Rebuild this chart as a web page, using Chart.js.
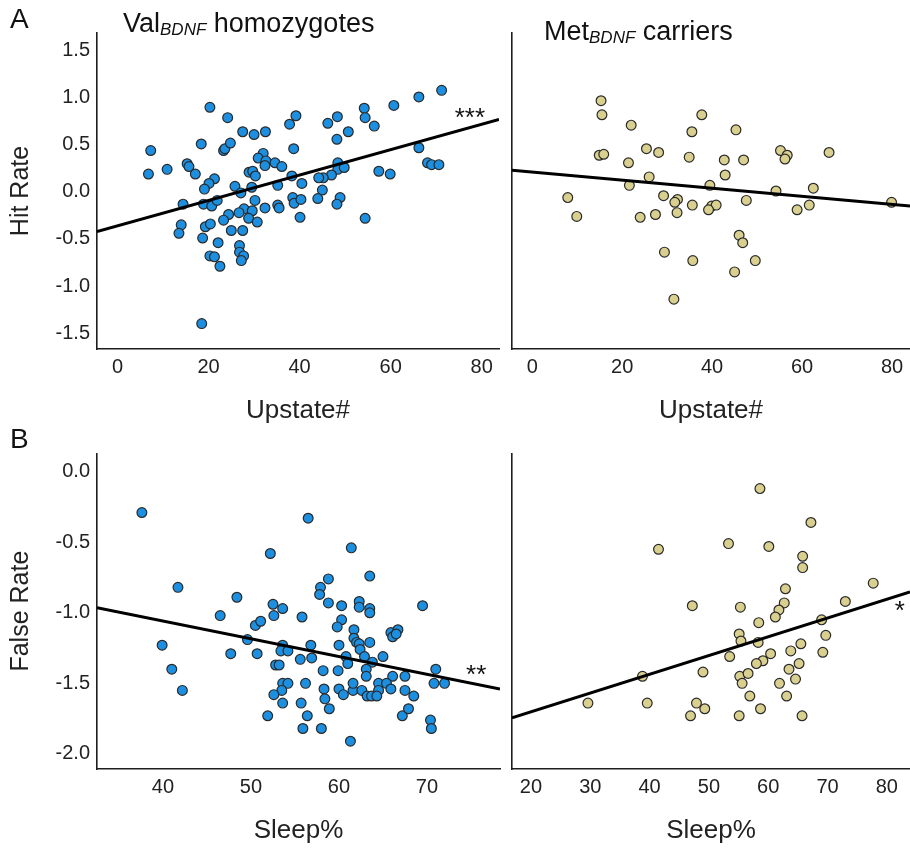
<!DOCTYPE html>
<html><head><meta charset="utf-8">
<script src="https://cdn.jsdelivr.net/npm/chart.js@4.4.1/dist/chart.umd.min.js"></script>
<style>
html,body{margin:0;padding:0;background:#fff;}
#wrap{position:relative;width:910px;height:850px;overflow:hidden;font-family:"Liberation Sans",Arial,sans-serif;color:#111;}
.box{position:absolute;}
.lbl{position:absolute;white-space:nowrap;line-height:27px;}
.sub{font-style:italic;font-size:17px;position:relative;top:3px;}
</style></head><body>
<div id="wrap">
  <div class="box" style="left:0;top:0"><canvas id="cA1" width="505" height="430"></canvas></div>
  <div class="box" style="left:505px;top:0"><canvas id="cA2" width="405" height="430"></canvas></div>
  <div class="box" style="left:0;top:430px"><canvas id="cB1" width="505" height="420"></canvas></div>
  <div class="box" style="left:505px;top:430px"><canvas id="cB2" width="405" height="420"></canvas></div>
  <div class="lbl" style="left:10px;top:5px;font-size:28px;line-height:28px">A</div>
  <div class="lbl" style="left:10px;top:425px;font-size:28px;line-height:28px">B</div>
  <div class="lbl" style="left:123px;top:10px;font-size:27px">Val<span class="sub">BDNF</span> homozygotes</div>
  <div class="lbl" style="left:544px;top:18px;font-size:27px">Met<span class="sub">BDNF</span> carriers</div>
</div>
<script>
// ---- Panel A, left: Val homozygotes, Upstate# vs Hit Rate
const valUpstate = [20.3,24.2,27.5,30.0,32.5,37.8,39.2,7.3,18.4,23.3,23.6,24.8,38.7,32.0,30.9,32.6,32.4,34.6,36.1,6.8,10.9,15.3,15.7,17.1,28.9,29.7,30.3,38.3,40.5,21.3,20.1,19.1,25.8,27.1,29.5,14.4,18.9,20.7,21.9,30.2,38.5,38.8,40.3,35.2,35.5,32.4,27.8,26.7,29.6,24.4,23.3,28.8,30.7,40.1,14.0,13.5,19.3,20.4,25.0,27.5,18.7,22.1,26.8,26.8,27.7,27.2,20.3,21.3,22.5,18.5,46.2,48.3,54.2,54.4,56.4,60.7,66.2,71.2,50.7,48.2,66.2,68.1,69.0,70.6,57.4,59.9,48.4,48.4,49.8,47.0,45.2,44.2,45.0,44.0,48.9,48.2,54.4,35.2];
const valHitRate = [0.90,0.79,0.64,0.61,0.64,0.72,0.81,0.44,0.51,0.44,0.46,0.52,0.46,0.41,0.36,0.33,0.28,0.31,0.27,0.19,0.24,0.30,0.27,0.19,0.21,0.22,0.17,0.17,0.09,0.14,0.09,0.03,0.06,-0.01,0.05,-0.13,-0.13,-0.15,-0.09,-0.09,-0.06,-0.12,-0.08,-0.14,-0.17,-0.17,-0.18,-0.22,-0.20,-0.24,-0.30,-0.28,-0.32,-0.27,-0.35,-0.44,-0.37,-0.34,-0.41,-0.41,-0.49,-0.54,-0.57,-0.64,-0.68,-0.73,-0.68,-0.69,-0.79,-1.40,0.73,0.80,0.89,0.79,0.70,0.92,1.01,1.08,0.64,0.56,0.47,0.31,0.29,0.29,0.22,0.19,0.31,0.24,0.26,0.18,0.15,0.15,0.02,-0.07,-0.06,-0.13,-0.28,0.07];
const valHitFitX = [-4.5, 83.8];
const valHitFitY = [-0.42, 0.77];

// ---- Panel A, right: Met carriers
const metUpstate = [15.3,15.5,22.0,37.7,35.5,45.3,14.9,15.9,25.4,28.1,34.9,21.4,42.7,47.0,55.2,56.7,56.2,66.0,42.9,26.0,21.6,39.5,54.2,62.5,79.9,7.9,9.9,29.2,32.3,31.7,32.2,27.4,24.0,35.6,39.9,40.9,39.2,47.6,58.9,61.6,46.0,46.8,29.4,35.7,49.6,45.0,31.5];
const metHitRate = [0.97,0.82,0.71,0.82,0.64,0.66,0.39,0.40,0.46,0.42,0.37,0.31,0.34,0.34,0.44,0.39,0.35,0.42,0.18,0.16,0.07,0.07,0.01,0.04,-0.11,-0.06,-0.26,-0.04,-0.08,-0.11,-0.22,-0.24,-0.27,-0.14,-0.15,-0.14,-0.19,-0.09,-0.19,-0.14,-0.46,-0.54,-0.64,-0.73,-0.73,-0.85,-1.14];
const metHitFitX = [-4.5, 84.0];
const metHitFitY = [0.23, -0.15];

// ---- Panel B, left: Val homozygotes, Sleep% vs False Rate
const valSleep = [37.6,52.2,41.7,48.4,52.5,53.6,52.6,55.8,46.5,50.5,51.1,49.6,53.6,53.4,54.2,55.6,39.9,47.7,50.7,52.8,53.2,41.0,42.2,53.6,54.2,53.5,52.6,53.6,55.7,51.9,55.9,56.5,61.4,63.5,58.8,57.9,57.8,58.8,60.3,62.3,62.3,63.5,63.5,69.5,60.3,59.8,61.7,61.7,62.0,65.9,66.7,66.1,66.5,56.8,60.0,62.3,62.4,63.5,56.9,60.8,61.0,62.9,63.8,65.0,58.2,59.9,63.1,63.1,66.1,67.5,71.0,70.8,72.0,56.2,58.3,60.0,61.6,62.6,61.6,64.5,65.4,64.5,65.9,67.5,68.5,60.5,63.2,63.7,64.3,58.4,58.9,56.4,67.2,67.9,70.4,70.5,58.0,61.3];
const valFalseRate = [-0.29,-0.58,-0.82,-0.89,-0.94,-0.97,-1.02,-1.03,-1.02,-1.09,-1.06,-1.19,-1.23,-1.27,-1.27,-1.33,-1.23,-1.29,-1.29,-1.37,-1.37,-1.40,-1.55,-1.50,-1.50,-1.55,-1.58,-1.64,-1.64,-1.73,-1.82,-0.33,-0.54,-0.74,-0.76,-0.82,-0.87,-0.93,-0.95,-0.92,-0.96,-0.97,-1.00,-0.95,-1.05,-1.10,-1.12,-1.18,-1.21,-1.14,-1.12,-1.17,-1.15,-1.23,-1.23,-1.22,-1.26,-1.21,-1.32,-1.31,-1.36,-1.31,-1.35,-1.31,-1.41,-1.41,-1.40,-1.45,-1.45,-1.45,-1.40,-1.50,-1.50,-1.50,-1.54,-1.54,-1.55,-1.55,-1.50,-1.50,-1.50,-1.55,-1.54,-1.55,-1.59,-1.58,-1.59,-1.59,-1.59,-1.61,-1.68,-1.73,-1.73,-1.68,-1.76,-1.82,-1.82,-1.91];
const valFalseFitX = [32.5, 78.3];
const valFalseFitY = [-0.965, -1.54];

// ---- Panel B, right: Met carriers
const metSleep = [58.6,67.2,41.5,53.3,60.1,65.8,65.8,77.7,62.9,62.7,61.8,61.2,73.0,47.2,55.3,58.4,69.0,69.7,69.2,55.1,55.4,58.3,65.5,63.8,60.4,53.5,59.1,58.0,65.2,63.5,64.6,49.0,38.8,55.2,56.6,55.6,61.9,56.9,63.1,29.6,39.6,47.9,49.3,46.9,55.1,58.7,65.7];
const metFalseRate = [-0.12,-0.36,-0.55,-0.51,-0.53,-0.60,-0.68,-0.79,-0.83,-0.93,-0.98,-1.03,-0.92,-0.95,-0.96,-1.07,-1.05,-1.16,-1.28,-1.15,-1.20,-1.21,-1.22,-1.27,-1.29,-1.31,-1.34,-1.36,-1.36,-1.40,-1.47,-1.42,-1.45,-1.45,-1.43,-1.50,-1.50,-1.59,-1.59,-1.64,-1.64,-1.64,-1.68,-1.73,-1.73,-1.68,-1.73];
const metFalseFitX = [16.8, 83.9];
const metFalseFitY = [-1.744, -0.852];

// ---- tick labels
const upstateTicks = [0, 20, 40, 60, 80];
const hitRateTicks = [-1.5, -1.0, -0.5, 0.0, 0.5, 1.0, 1.5];
const valSleepTicks = [40, 50, 60, 70];
const metSleepTicks = [20, 30, 40, 50, 60, 70, 80];
const falseRateTicks = [-2.0, -1.5, -1.0, -0.5, 0.0];

// ---- significance marks
const sigMarks = ['***', '', '**', '*'];

const BLUE = '#1c8fe0', TAN = '#d9cf8f', EDGE = '#2a2a2a', AXIS = '#1e1e1e';
const FONT = "'Liberation Sans', Arial, sans-serif";

const pts = (xs, ys) => xs.map((x, i) => ({x: x, y: ys[i]}));

const starPlugin = {
  id: 'stars',
  afterDatasetsDraw(chart, args, opts) {
    if (!opts.text) return;
    const ctx = chart.ctx;
    const px = chart.scales.x.getPixelForValue(opts.x);
    const py = chart.scales.y.getPixelForValue(opts.y);
    ctx.save();
    ctx.font = '26px ' + FONT;
    ctx.fillStyle = '#111';
    ctx.textAlign = 'center';
    ctx.textBaseline = 'middle';
    ctx.fillText(opts.text, px, py + 5);
    ctx.restore();
  }
};

function makeChart(id, c) {
  return new Chart(document.getElementById(id), {
    type: 'scatter',
    data: {
      datasets: [
        {
          type: 'line',
          data: pts(c.fitX, c.fitY),
          borderColor: '#000',
          borderWidth: 3,
          pointRadius: 0,
          fill: false,
          tension: 0
        },
        {
          data: pts(c.xs, c.ys),
          backgroundColor: c.color,
          borderColor: EDGE,
          borderWidth: 1.2,
          pointRadius: 4.9
        }
      ]
    },
    options: {
      responsive: false,
      animation: false,
      devicePixelRatio: 1,
      events: [],
      layout: {autoPadding: false, padding: {left: 0, top: c.padTop, right: c.padRight, bottom: 0}},
      plugins: {
        legend: {display: false},
        tooltip: {enabled: false},
        stars: {text: c.star, x: c.starX, y: c.starY}
      },
      scales: {
        x: {
          type: 'linear',
          min: c.xMin, max: c.xMax,
          grid: {display: false, drawTicks: false},
          border: {display: true, color: AXIS, width: 1.6},
          afterBuildTicks: s => { s.ticks = c.xTicks.map(v => ({value: v})); },
          afterFit: s => { s.height = 81; },
          ticks: {
            autoSkip: false, maxRotation: 0, padding: 6,
            color: '#222', font: {family: FONT, size: 20},
            callback: v => String(v)
          },
          title: {
            display: true, text: c.xTitle, color: '#222',
            font: {family: FONT, size: 26}, padding: {top: 0, bottom: 4}
          }
        },
        y: {
          type: 'linear',
          min: c.yMin, max: c.yMax,
          grid: {display: false, drawTicks: false},
          border: {display: true, color: AXIS, width: 1.6},
          afterBuildTicks: s => { s.ticks = c.yTicks.map(v => ({value: v})); },
          afterFit: s => { s.width = c.yWidth; },
          ticks: {
            display: c.showY, padding: 7,
            color: '#222', font: {family: FONT, size: 20},
            callback: v => Number(v).toFixed(1)
          },
          title: {
            display: !!c.yTitle, text: c.yTitle || '', color: '#222',
            font: {family: FONT, size: 25}, padding: {top: 6, bottom: 0}
          }
        }
      }
    },
    plugins: [starPlugin]
  });
}

makeChart('cA1', {
  xs: valUpstate, ys: valHitRate, fitX: valHitFitX, fitY: valHitFitY, color: BLUE,
  xMin: -4.5, xMax: 83.8, yMin: -1.67, yMax: 1.69,
  xTicks: upstateTicks, yTicks: hitRateTicks, showY: true, yWidth: 97,
  xTitle: 'Upstate#', yTitle: 'Hit Rate', padTop: 33, padRight: 6,
  star: sigMarks[0], starX: 77.4, starY: 0.83
});
makeChart('cA2', {
  xs: metUpstate, ys: metHitRate, fitX: metHitFitX, fitY: metHitFitY, color: TAN,
  xMin: -4.5, xMax: 84.0, yMin: -1.67, yMax: 1.69,
  xTicks: upstateTicks, yTicks: hitRateTicks, showY: false, yWidth: 7,
  xTitle: 'Upstate#', yTitle: '', padTop: 33, padRight: 0,
  star: sigMarks[1], starX: 0, starY: 0
});
makeChart('cB1', {
  xs: valSleep, ys: valFalseRate, fitX: valFalseFitX, fitY: valFalseFitY, color: BLUE,
  xMin: 32.5, xMax: 78.3, yMin: -2.107, yMax: 0.13,
  xTicks: valSleepTicks, yTicks: falseRateTicks, showY: true, yWidth: 97,
  xTitle: 'Sleep%', yTitle: 'False Rate', padTop: 23.3, padRight: 5,
  star: sigMarks[2], starX: 75.6, starY: -1.41
});
makeChart('cB2', {
  xs: metSleep, ys: metFalseRate, fitX: metFalseFitX, fitY: metFalseFitY, color: TAN,
  xMin: 16.8, xMax: 83.9, yMin: -2.107, yMax: 0.13,
  xTicks: metSleepTicks, yTicks: falseRateTicks, showY: false, yWidth: 7,
  xTitle: 'Sleep%', yTitle: '', padTop: 23.3, padRight: 0,
  star: sigMarks[3], starX: 82.2, starY: -0.96
});
</script>
</body></html>
